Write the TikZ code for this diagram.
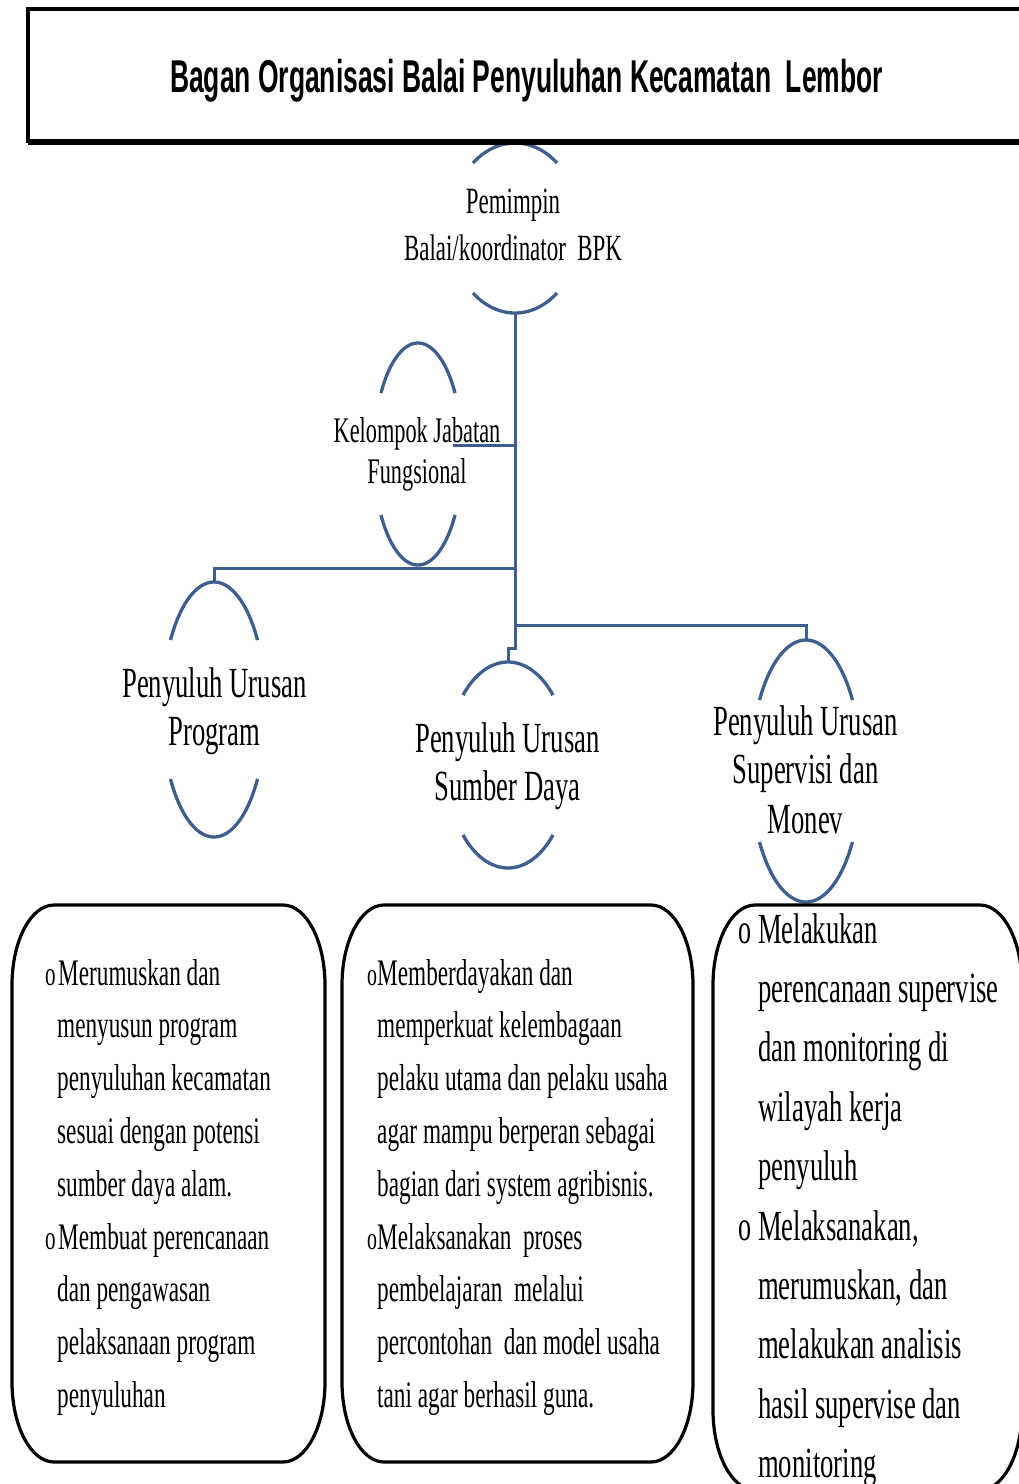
\documentclass[tikz,border=0pt]{standalone}
\usepackage{fontspec}
\setmainfont{Liberation Serif}[FakeStretch=0.62]
\newfontfamily\titlefont{Liberation Sans}[FakeStretch=0.575]
\definecolor{orgblue}{RGB}{62,94,142}
\tikzset{
  conn/.style={draw=orgblue, line width=3pt},
  arcline/.style={draw=orgblue, line width=3.3pt},
  boxline/.style={draw=black, line width=3.2pt},
  lbl/.style={inner sep=0pt, anchor=base},
  lft/.style={inner sep=0pt, anchor=base west},
  bigtxt/.style={font=\fontsize{43}{48}\selectfont},
  midtxt/.style={font=\fontsize{37}{44}\selectfont},
  boxtxt/.style={lft, font=\fontsize{37.5}{44}\selectfont},
  boxtxtb/.style={lft, font=\fontsize{43}{50}\selectfont},
}
\newcommand\ovalarcs[6]{%
  \draw[arcline] plot[domain=#5:#6,samples=50] ({#1+#3*cos(\x)},{#2-#4*sin(\x)});
  \draw[arcline] plot[domain=#5:#6,samples=50] ({#1+#3*cos(\x)},{#2+#4*sin(\x)});}
\newcommand\softbox[6]{%
  \draw[boxline] ({#1+#5},#2) -- ({#3-#5},#2)
    .. controls ({#3-0.4477*#5},#2) and (#3,{#2+0.4477*#6}) .. (#3,{#2+#6})
    -- (#3,{#4-#6})
    .. controls (#3,{#4-0.4477*#6}) and ({#3-0.4477*#5},#4) .. ({#3-#5},#4)
    -- ({#1+#5},#4)
    .. controls ({#1+0.4477*#5},#4) and (#1,{#4-0.4477*#6}) .. (#1,{#4-#6})
    -- (#1,{#2+#6})
    .. controls (#1,{#2+0.4477*#6}) and ({#1+0.4477*#5},#2) .. cycle;}
\newcommand\bul[2]{\makebox[#1][l]{\fontsize{#2}{#2}\selectfont o}}
\begin{document}
\begin{tikzpicture}[x=1pt,y=-1pt]
\useasboundingbox (0,0) rectangle (1019,1484);
\clip (0,0) rectangle (1019,1484);
\fill[white] (0,0) rectangle (1019,1484);

% oval arc pairs (nodes)
\ovalarcs{515}{228}{65.2}{85}{49.9}{130.1}
\ovalarcs{418}{454}{44.3}{111}{33.3}{146.7}
\ovalarcs{214}{709.5}{51.9}{127.5}{33}{147}
\ovalarcs{508}{765}{61.3}{103}{42.8}{137.2}
\ovalarcs{806}{771}{55.3}{131}{32.8}{147.2}

% connection points
\coordinate (pemB) at (515,313);
\coordinate (kelR) at (453,445);
\coordinate (progT) at (214,582);
\coordinate (sumT) at (508,662);
\coordinate (supT) at (806,640);
\coordinate (jk) at (515,445);
\coordinate (jp) at (515,568);
\coordinate (js) at (515,625);
\coordinate (jd) at (515,648);

\draw[conn] (pemB) -- (jd) -| (sumT);
\draw[conn] (jk) -- (kelR);
\draw[conn] (jp) -| (progT);
\draw[conn] (js) -| (supT);

% title box
\draw[line width=4pt, fill=white] (28,9) rectangle (1045,141);
\draw[line width=4pt] (28,142.5) -- (1045,142.5);
\node[lbl, font=\titlefont\bfseries\fontsize{46}{50}\selectfont] (title) at (526.5,92)
  {Bagan Organisasi Balai Penyuluhan Kecamatan\ \ Lembor};

% node labels
\node[lbl, midtxt] (pem1) at (513,213) {Pemimpin};
\node[lbl, midtxt] (pem2) at (513,260) {Balai/koordinator\ \ BPK};
\node[lbl, font=\fontsize{36}{41}\selectfont] (kel1) at (417,442) {Kelompok Jabatan};
\node[lbl, font=\fontsize{36}{41}\selectfont] (kel2) at (417,483) {Fungsional};
\node[lbl, bigtxt] (prog1) at (214.5,697) {Penyuluh Urusan};
\node[lbl, bigtxt] (prog2) at (214.5,745) {Program};
\node[lbl, bigtxt] (sum1) at (507.5,752) {Penyuluh Urusan};
\node[lbl, bigtxt] (sum2) at (507.5,800) {Sumber Daya};
\node[lbl, bigtxt] (sup1) at (805.5,735) {Penyuluh Urusan};
\node[lbl, bigtxt] (sup2) at (805.5,783) {Supervisi dan};
\node[lbl, bigtxt] (sup3) at (805.5,833) {Monev};

% description boxes
\softbox{12}{905}{325}{1462}{42}{80}
\softbox{342}{905}{693}{1462}{42}{80}
\softbox{713}{905}{1022}{1490}{42}{80}

% box 1 text
\node[boxtxt] (a1) at (45,985) {\bul{13pt}{34}Merumuskan dan};
\node[boxtxt] (a2) at (57,1037.8) {menyusun program};
\node[boxtxt] (a3) at (57,1090.6) {penyuluhan kecamatan};
\node[boxtxt] (a4) at (57,1143.4) {sesuai dengan potensi};
\node[boxtxt] (a5) at (57,1196.2) {sumber daya alam.};
\node[boxtxt] (a6) at (45,1249) {\bul{13pt}{34}Membuat perencanaan};
\node[boxtxt] (a7) at (57,1301.8) {dan pengawasan};
\node[boxtxt] (a8) at (57,1354.6) {pelaksanaan program};
\node[boxtxt] (a9) at (57,1407.4) {penyuluhan};

% box 2 text
\node[boxtxt] (b1) at (367,985) {\bul{10pt}{32}Memberdayakan dan};
\node[boxtxt] (b2) at (377,1037.8) {memperkuat kelembagaan};
\node[boxtxt] (b3) at (377,1090.6) {pelaku utama dan pelaku usaha};
\node[boxtxt] (b4) at (377,1143.4) {agar mampu berperan sebagai};
\node[boxtxt] (b5) at (377,1196.2) {bagian dari system agribisnis.};
\node[boxtxt] (b6) at (367,1249) {\bul{10pt}{32}Melaksanakan\ \ proses};
\node[boxtxt] (b7) at (377,1301.8) {pembelajaran\ \ melalui};
\node[boxtxt] (b8) at (377,1354.6) {percontohan\ \ dan model usaha};
\node[boxtxt] (b9) at (377,1407.4) {tani agar berhasil guna.};

% box 3 text
\node[boxtxtb] (c1) at (738,943) {\bul{20pt}{42}Melakukan};
\node[boxtxtb] (c2) at (758,1002.4) {perencanaan supervise};
\node[boxtxtb] (c3) at (758,1061.8) {dan monitoring di};
\node[boxtxtb] (c4) at (758,1121.2) {wilayah kerja};
\node[boxtxtb] (c5) at (758,1180.6) {penyuluh};
\node[boxtxtb] (c6) at (738,1240) {\bul{20pt}{42}Melaksanakan,};
\node[boxtxtb] (c7) at (758,1299.4) {merumuskan, dan};
\node[boxtxtb] (c8) at (758,1358.8) {melakukan analisis};
\node[boxtxtb] (c9) at (758,1418.2) {hasil supervise dan};
\node[boxtxtb] (c10) at (758,1477.6) {monitoring};
\end{tikzpicture}
\end{document}
